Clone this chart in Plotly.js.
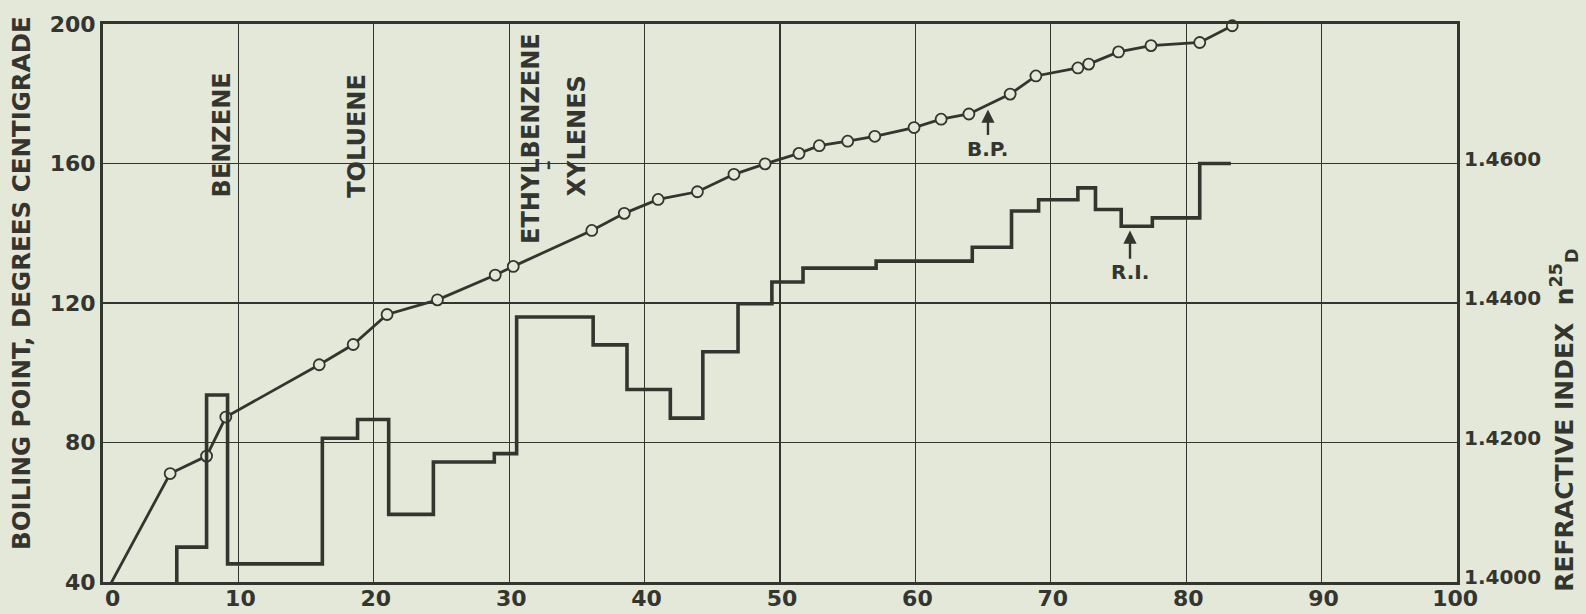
<!DOCTYPE html>
<html>
<head>
<meta charset="utf-8">
<script src="https://cdn.plot.ly/plotly-3.0.1.min.js"></script>
<style>
  html, body { margin: 0; padding: 0; background: #e3e8d8; }
  #chart { width: 1586px; height: 614px; }
</style>
</head>
<body>
<div id="chart"></div>
<script>
// Volume percent distilled (x) vs boiling point (°C) — open circles
const bpX = [0, 4.96, 7.65, 9.07, 15.97, 18.48, 20.98, 24.7, 28.97, 30.3,
             36.1, 38.5, 41.0, 43.9, 46.6, 48.9, 51.4, 52.9, 55.0, 57.0,
             59.9, 61.9, 63.95, 67.0, 68.9, 72.0, 72.8, 75.0, 77.4, 81.0, 83.4];
const bpY = [35.4, 71.1, 76.1, 87.3, 102.3, 108.1, 116.7, 120.9, 128.0, 130.5,
             140.8, 145.7, 149.7, 151.9, 156.9, 159.9, 162.9, 165.1, 166.4, 167.8,
             170.3, 172.7, 174.2, 179.9, 185.1, 187.4, 188.5, 192.0, 193.8, 194.7, 199.5];

// Refractive index n_D^25 per fraction — step line (start of each fraction)
const riX = [5.45, 5.45, 7.65, 9.2, 16.2, 18.8, 21.1, 24.4, 28.9, 30.55,
             36.2, 38.7, 41.9, 44.3, 46.9, 49.4, 51.7, 57.1, 64.2, 67.1,
             69.1, 72.0, 73.3, 75.2, 77.5, 81.0, 83.3];
const riY = [1.4000, 1.4050, 1.4268, 1.4026, 1.4206, 1.4233, 1.4097, 1.4172, 1.4184, 1.4380,
             1.4340, 1.4276, 1.4235, 1.4330, 1.4399, 1.4430, 1.4450, 1.4460, 1.4480, 1.4532,
             1.4548, 1.4565, 1.4534, 1.4510, 1.4522, 1.4600, 1.4600];

const xTicks = [0, 10, 20, 30, 40, 50, 60, 70, 80, 90, 100];
const xTickText = ['\u00a0\u00a00', '10', '20', '30', '40', '50', '60', '70', '80', '90', '100\u00a0'];
const yTicks = [40, 80, 120, 160, 200];
const y2Ticks = [1.40, 1.42, 1.44, 1.46];
const y2TickText = ['1.4000', '1.4200', '1.4400', '1.4600'];

const compounds = ['BENZENE', 'TOLUENE', 'ETHYLBENZENE', 'XYLENES'];
const compoundX = [8.8, 18.7, 31.6, 35.0];
const compoundY = [168.1, 168.0, 167.3, 168.0];

const INK = '#34352f';
const BG = '#e3e8d8';
const FONT = 'DejaVu Sans';

const traces = [
  {
    x: riX, y: riY, yaxis: 'y2', type: 'scatter', mode: 'lines',
    line: { shape: 'hv', color: INK, width: 3.6 },
    hoverinfo: 'skip', showlegend: false
  },
  {
    x: bpX, y: bpY, type: 'scatter', mode: 'lines+markers',
    line: { color: INK, width: 2.8 },
    marker: { symbol: 'circle', size: 11, color: BG, line: { color: INK, width: 1.8 } },
    cliponaxis: false, hoverinfo: 'skip', showlegend: false
  }
];

const boldFont = (size) => ({ family: FONT, size: size, color: INK, weight: 'bold' });

const annotations = [];
compounds.forEach((name, i) => {
  annotations.push({
    x: compoundX[i], y: compoundY[i], xref: 'x', yref: 'y',
    text: name, textangle: -90, showarrow: false,
    font: boldFont(24), xanchor: 'center', yanchor: 'middle'
  });
});
annotations.push({
  x: 32.8, y: 159.5, xref: 'x', yref: 'y', text: '–', textangle: -90,
  showarrow: false, font: boldFont(20)
});
annotations.push({
  x: 65.36, y: 175.5, xref: 'x', yref: 'y',
  ax: 65.36, ay: 164.3, axref: 'x', ayref: 'y',
  text: 'B.P.', showarrow: true, arrowhead: 2, arrowsize: 1.1, arrowwidth: 2.4,
  arrowcolor: INK, standoff: 0, startstandoff: 0, font: boldFont(20)
});
annotations.push({
  x: 75.85, y: 140.8, xref: 'x', yref: 'y',
  ax: 75.85, ay: 128.8, axref: 'x', ayref: 'y',
  text: 'R.I.', showarrow: true, arrowhead: 2, arrowsize: 1.1, arrowwidth: 2.4,
  arrowcolor: INK, standoff: 0, startstandoff: 0, font: boldFont(20)
});
annotations.push({
  x: -0.0598, y: 0.536, xref: 'paper', yref: 'paper',
  text: 'BOILING POINT, DEGREES CENTIGRADE', textangle: -90, showarrow: false,
  font: boldFont(24.5), xanchor: 'center', yanchor: 'middle'
});
annotations.push({
  x: 1.0795, y: 0.29, xref: 'paper', yref: 'paper',
  text: 'REFRACTIVE INDEX  n<sup>25</sup><sub>D</sub>', textangle: -90, showarrow: false,
  font: boldFont(25), xanchor: 'center', yanchor: 'middle'
});

const layout = {
  width: 1586, height: 614,
  margin: { l: 103, r: 129, t: 24, b: 32, pad: 0 },
  paper_bgcolor: BG, plot_bgcolor: BG,
  showlegend: false,
  xaxis: {
    range: [0, 100], tickvals: xTicks, ticktext: xTickText,
    showgrid: true, gridcolor: INK, gridwidth: 1.3, zeroline: false,
    showline: true, mirror: true, linecolor: INK, linewidth: 3,
    ticks: '', tickfont: boldFont(22), ticklabelshift: 2, ticklabelstandoff: -5
  },
  yaxis: {
    range: [40, 200], tickvals: yTicks, ticktext: yTicks.map(String),
    showgrid: true, gridcolor: INK, gridwidth: 1.3, zeroline: false,
    showline: true, mirror: true, linecolor: INK, linewidth: 3,
    ticks: '', tickfont: boldFont(22), ticklabelstandoff: 0
  },
  yaxis2: {
    overlaying: 'y', side: 'right', range: [1.40, 1.48],
    tickvals: y2Ticks, ticktext: y2TickText,
    showgrid: false, zeroline: false, showline: false,
    ticks: '', tickfont: boldFont(20), ticklabelstandoff: 6, ticklabelshift: -5
  },
  annotations: annotations
};

Plotly.newPlot('chart', traces, layout, { displayModeBar: false, staticPlot: true });
</script>
</body>
</html>
